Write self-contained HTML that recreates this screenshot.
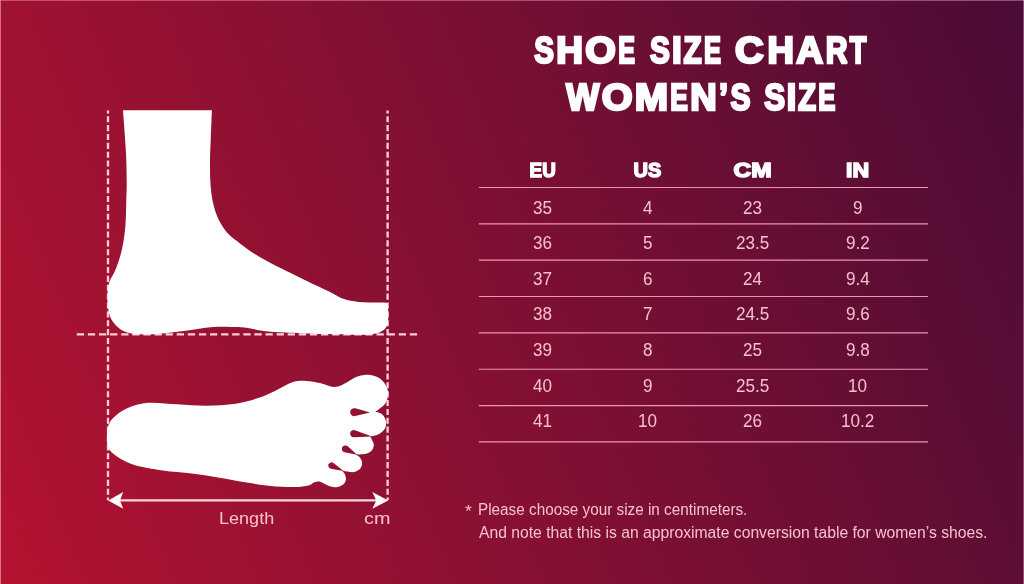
<!DOCTYPE html>
<html><head><meta charset="utf-8"><title>Shoe Size Chart</title>
<style>
html,body{margin:0;padding:0}
body{width:1024px;height:584px;overflow:hidden;position:relative;font-family:"Liberation Sans",sans-serif;
background:linear-gradient(68deg,#b41330 0%,#4a0c36 100%);}
.t{position:absolute;white-space:pre;line-height:1;transform-origin:0 0;font-family:"Liberation Sans",sans-serif}
.hl{position:absolute;left:478.8px;width:449px;height:1.3px;background:#f3b9c6}
svg{position:absolute;left:0;top:0}
.edge{position:absolute;background:rgba(255,190,210,.55)}
#L{position:absolute;left:0;top:0;width:1024px;height:584px;will-change:transform}
</style></head><body><div id="L">
<svg width="1024" height="584" viewBox="0 0 1024 584">
<defs><mask id="m" maskUnits="userSpaceOnUse" x="0" y="0" width="1024" height="584">
<path d="M106.90 435.70 C107.23 433.75 107.35 427.40 108.90 424.00 C110.45 420.60 113.05 417.97 116.20 415.30 C119.35 412.63 122.47 410.08 127.80 408.00 C133.13 405.92 139.95 403.42 148.20 402.80 C156.45 402.18 167.60 403.82 177.30 404.30 C187.00 404.78 196.68 405.80 206.40 405.70 C216.12 405.60 226.85 405.02 235.60 403.70 C244.35 402.38 252.33 399.92 258.90 397.80 C265.47 395.68 269.55 393.55 275.00 391.00 C280.45 388.45 286.43 384.18 291.60 382.50 C296.77 380.82 301.27 380.82 306.00 380.90 C310.73 380.98 316.37 382.22 320.00 383.00 C323.63 383.78 325.42 384.95 327.80 385.60 C330.18 386.25 331.92 387.02 334.30 386.90 C336.68 386.78 339.28 386.10 342.10 384.90 C344.92 383.70 348.38 381.17 351.20 379.70 C354.02 378.23 356.17 376.92 359.00 376.10 C361.83 375.28 365.15 374.63 368.20 374.80 C371.25 374.97 374.70 375.85 377.30 377.10 C379.90 378.35 382.07 380.13 383.80 382.30 C385.53 384.47 387.02 387.72 387.70 390.10 C388.38 392.48 388.33 394.32 387.90 396.60 C387.47 398.88 386.55 401.73 385.10 403.80 C383.65 405.87 380.80 407.67 379.20 409.00 C377.60 410.33 376.12 411.33 375.50 411.80 C376.33 412.05 379.12 412.57 380.50 413.30 C381.88 414.03 382.85 414.63 383.80 416.20 C384.75 417.77 386.08 420.53 386.20 422.70 C386.32 424.87 385.62 427.37 384.50 429.20 C383.38 431.03 381.25 432.62 379.50 433.70 C377.75 434.78 375.53 435.25 374.00 435.70 C372.47 436.15 370.92 436.28 370.30 436.40 C370.55 436.92 371.22 438.12 371.80 439.50 C372.38 440.88 373.80 442.85 373.80 444.70 C373.80 446.55 373.10 449.08 371.80 450.60 C370.50 452.12 368.05 453.17 366.00 453.80 C363.95 454.43 361.25 454.32 359.50 454.40 C357.75 454.48 356.17 454.32 355.50 454.30 C356.27 454.87 359.00 456.27 360.10 457.70 C361.20 459.13 362.10 461.05 362.10 462.90 C362.10 464.75 361.42 467.27 360.10 468.80 C358.78 470.33 356.27 471.63 354.20 472.10 C352.13 472.57 349.73 471.88 347.70 471.60 C345.67 471.32 342.95 470.60 342.00 470.40 C342.52 471.12 344.47 473.12 345.10 474.70 C345.73 476.28 346.12 478.28 345.80 479.90 C345.48 481.52 344.62 483.22 343.20 484.40 C341.78 485.58 339.37 486.63 337.30 487.00 C335.23 487.37 332.97 487.13 330.80 486.60 C328.63 486.07 326.25 484.63 324.30 483.80 C322.35 482.97 320.83 481.82 319.10 481.60 C317.37 481.38 315.68 481.85 313.90 482.50 C312.12 483.15 311.72 484.73 308.40 485.50 C305.08 486.27 300.32 487.02 294.00 487.10 C287.68 487.18 277.82 486.67 270.50 486.00 C263.18 485.33 258.35 484.45 250.10 483.10 C241.85 481.75 230.70 479.50 221.00 477.90 C211.30 476.30 201.60 474.72 191.90 473.50 C182.20 472.28 172.50 472.05 162.80 470.60 C153.10 469.15 141.47 467.23 133.70 464.80 C125.93 462.37 120.48 458.92 116.20 456.00 C111.92 453.08 109.55 450.68 108.00 447.30 C106.45 443.92 107.08 437.63 106.90 435.70 Z" fill="#fff"/>
<path d="M370.00 412.60 L355.11 416.09 A4.00 4.00 0 1 1 355.31 408.36 Z" fill="#000"/><path d="M372.00 436.60 L353.84 437.30 A3.60 3.60 0 1 1 354.94 430.32 Z" fill="#000"/><path d="M357.00 454.80 L344.71 452.33 A3.50 3.50 0 1 1 347.77 446.32 Z" fill="#000"/><path d="M343.50 471.00 L330.91 468.65 A3.20 3.20 0 1 1 333.50 463.00 Z" fill="#000"/>
</mask></defs>
<g stroke="#fbd0d9" fill="none">
<path d="M108 110.5V500.3" stroke-width="2.3" stroke-dasharray="6.1 2.77" stroke-dashoffset="3.2"/>
<path d="M387.6 110.5V500.3" stroke-width="2.3" stroke-dasharray="6.1 2.77" stroke-dashoffset="3.2"/>
<path d="M76.8 334.3H417.2" stroke-width="2.2" stroke-dasharray="7.3 3.8"/>
<path d="M118 500.4H378" stroke-width="2.1" stroke="#fcd6de"/>
</g>
<path d="M123.00 110.30 L211.90 110.30 C211.70 115.25 211.02 131.33 210.70 140.00 C210.38 148.67 210.03 154.88 210.00 162.30 C209.97 169.72 209.93 177.45 210.50 184.50 C211.07 191.55 211.98 198.65 213.40 204.60 C214.82 210.55 216.58 215.38 219.00 220.20 C221.42 225.02 224.40 229.63 227.90 233.50 C231.40 237.37 236.13 240.37 240.00 243.40 C243.87 246.43 247.38 249.20 251.10 251.70 C254.82 254.20 258.58 256.27 262.30 258.40 C266.02 260.53 269.70 262.55 273.40 264.50 C277.10 266.45 280.78 268.25 284.50 270.10 C288.22 271.95 291.98 273.80 295.70 275.60 C299.42 277.40 303.08 279.13 306.80 280.90 C310.52 282.67 314.28 284.42 318.00 286.20 C321.72 287.98 325.43 289.73 329.10 291.60 C332.77 293.47 336.62 295.90 340.00 297.40 C343.38 298.90 346.27 299.83 349.40 300.60 C352.53 301.37 355.65 301.68 358.80 302.00 C361.95 302.32 365.15 302.42 368.30 302.50 C371.45 302.58 375.00 302.48 377.70 302.50 C380.40 302.52 382.85 302.42 384.50 302.60 C386.15 302.78 387.08 303.43 387.60 303.60 C387.68 304.17 388.02 303.93 388.10 307.00 C388.18 310.07 388.33 318.78 388.10 322.00 C387.87 325.22 387.33 325.03 386.70 326.30 C386.07 327.57 385.33 328.67 384.30 329.60 C383.27 330.53 381.92 331.27 380.50 331.90 C379.08 332.53 377.83 332.98 375.80 333.40 C373.77 333.82 371.77 334.18 368.30 334.40 C364.83 334.62 363.22 334.77 355.00 334.70 C346.78 334.63 330.55 334.37 319.00 334.00 C307.45 333.63 294.97 333.02 285.70 332.50 C276.43 331.98 269.72 331.65 263.40 330.90 C257.08 330.15 252.73 328.63 247.80 328.00 C242.87 327.37 239.55 327.25 233.80 327.10 C228.05 326.95 220.15 326.67 213.30 327.10 C206.45 327.53 201.27 328.63 192.70 329.70 C184.13 330.77 170.88 332.73 161.90 333.50 C152.92 334.27 145.22 334.72 138.80 334.30 C132.38 333.88 127.68 333.05 123.40 331.00 C119.12 328.95 115.58 325.43 113.10 322.00 C110.62 318.57 109.43 314.90 108.50 310.40 C107.57 305.90 107.37 299.70 107.50 295.00 C107.63 290.30 107.93 286.48 109.30 282.20 C110.67 277.92 113.57 274.87 115.70 269.30 C117.83 263.73 120.48 256.07 122.10 248.80 C123.72 241.53 124.70 233.83 125.40 225.70 C126.10 217.57 126.08 207.25 126.30 200.00 C126.52 192.75 126.77 190.32 126.70 182.20 C126.63 174.08 126.52 163.28 125.90 151.30 C125.28 139.32 123.48 117.13 123.00 110.30 Z" fill="#fff"/>
<rect x="100" y="370" width="295" height="125" fill="#fff" mask="url(#m)"/>
<path d="M478.8 187.45H928" stroke="#ee93b0" stroke-width="1.15" fill="none"/><path d="M478.8 223.80H928" stroke="#ee93b0" stroke-width="1.15" fill="none"/><path d="M478.8 260.15H928" stroke="#ee93b0" stroke-width="1.15" fill="none"/><path d="M478.8 296.50H928" stroke="#ee93b0" stroke-width="1.15" fill="none"/><path d="M478.8 332.85H928" stroke="#ee93b0" stroke-width="1.15" fill="none"/><path d="M478.8 369.20H928" stroke="#ee93b0" stroke-width="1.15" fill="none"/><path d="M478.8 405.55H928" stroke="#ee93b0" stroke-width="1.15" fill="none"/><path d="M478.8 441.90H928" stroke="#ee93b0" stroke-width="1.15" fill="none"/>
<path d="M108.2 500.4L123.2 492.1L120 500.4L123.2 508.8Z" fill="#fff"/>
<path d="M388.2 500.4L372.3 492.1L376.3 500.4L372.3 508.8Z" fill="#fff"/>
</svg>
<svg width="1024" height="584" viewBox="0 0 1024 584"><g font-family="Liberation Sans" font-weight="700" font-size="37.0" fill="#fff" stroke="#fff" stroke-width="2.5" stroke-linejoin="miter" stroke-miterlimit="2"><text transform="translate(534.29,63) scale(0.7994,1)">S</text><text transform="translate(556.14,63) scale(1.0015,1)">H</text><text transform="translate(585.15,63) scale(1.0614,1)">O</text><text transform="translate(618.23,63) scale(0.6774,1)">E</text><text transform="translate(649.91,63) scale(0.8022,1)">S</text><text transform="translate(672.0,63) scale(0.9446,1)">I</text><text transform="translate(683.38,63) scale(0.8027,1)">Z</text><text transform="translate(703.93,63) scale(0.6864,1)">E</text><text transform="translate(734.93,63) scale(1.0716,1)">C</text><text transform="translate(767.54,63) scale(0.9891,1)">H</text><text transform="translate(796.24,63) scale(1.0024,1)">A</text><text transform="translate(825.75,63) scale(0.8187,1)">R</text><text transform="translate(849.66,63) scale(0.7374,1)">T</text><text transform="translate(566.15,110) scale(0.9453,1)">W</text><text transform="translate(601.83,110) scale(1.0724,1)">O</text><text transform="translate(634.81,110) scale(1.0818,1)">M</text><text transform="translate(670.18,110) scale(0.7126,1)">E</text><text transform="translate(690.14,110) scale(0.9891,1)">N</text><text transform="translate(719.09,110) scale(0.8808,1)">’</text><text transform="translate(730.61,110) scale(0.8109,1)">S</text><text transform="translate(764.21,110) scale(0.8428,1)">S</text><text transform="translate(786.71,110) scale(0.9208,1)">I</text><text transform="translate(797.98,110) scale(0.7964,1)">Z</text><text transform="translate(818.32,110) scale(0.6945,1)">E</text></g><g font-family="Liberation Sans" font-weight="700" font-size="20.0" fill="#fff" stroke="#fff" stroke-width="1.5" stroke-linejoin="miter" stroke-miterlimit="2"><text transform="translate(529.62,177) scale(0.9386,1)">EU</text><text transform="translate(633.61,177) scale(0.9959,1)">US</text><text transform="translate(733.44,177) scale(1.226,1)">CM</text><text transform="translate(846.05,177) scale(1.1548,1)">IN</text></g></svg>
<span class="t" style="left:533.11px;top:199px;font-size:18.0px;font-weight:400;color:#f8c0cd;transform:scaleX(0.95)">35</span>
<span class="t" style="left:643.13px;top:199px;font-size:18.0px;font-weight:400;color:#f8c0cd;transform:scaleX(0.95)">4</span>
<span class="t" style="left:743.01px;top:199px;font-size:18.0px;font-weight:400;color:#f8c0cd;transform:scaleX(0.95)">23</span>
<span class="t" style="left:852.79px;top:199px;font-size:18.0px;font-weight:400;color:#f8c0cd;transform:scaleX(0.95)">9</span>
<span class="t" style="left:533.13px;top:234px;font-size:18.0px;font-weight:400;color:#f8c0cd;transform:scaleX(0.95)">36</span>
<span class="t" style="left:643.02px;top:234px;font-size:18.0px;font-weight:400;color:#f8c0cd;transform:scaleX(0.95)">5</span>
<span class="t" style="left:735.85px;top:234px;font-size:18.0px;font-weight:400;color:#f8c0cd;transform:scaleX(0.95)">23.5</span>
<span class="t" style="left:845.67px;top:234px;font-size:18.0px;font-weight:400;color:#f8c0cd;transform:scaleX(0.95)">9.2</span>
<span class="t" style="left:533.14px;top:270px;font-size:18.0px;font-weight:400;color:#f8c0cd;transform:scaleX(0.95)">37</span>
<span class="t" style="left:643.04px;top:270px;font-size:18.0px;font-weight:400;color:#f8c0cd;transform:scaleX(0.95)">6</span>
<span class="t" style="left:742.85px;top:270px;font-size:18.0px;font-weight:400;color:#f8c0cd;transform:scaleX(0.95)">24</span>
<span class="t" style="left:845.5px;top:270px;font-size:18.0px;font-weight:400;color:#f8c0cd;transform:scaleX(0.95)">9.4</span>
<span class="t" style="left:533.12px;top:305px;font-size:18.0px;font-weight:400;color:#f8c0cd;transform:scaleX(0.95)">38</span>
<span class="t" style="left:643.08px;top:305px;font-size:18.0px;font-weight:400;color:#f8c0cd;transform:scaleX(0.95)">7</span>
<span class="t" style="left:735.85px;top:305px;font-size:18.0px;font-weight:400;color:#f8c0cd;transform:scaleX(0.95)">24.5</span>
<span class="t" style="left:845.64px;top:305px;font-size:18.0px;font-weight:400;color:#f8c0cd;transform:scaleX(0.95)">9.6</span>
<span class="t" style="left:533.14px;top:341px;font-size:18.0px;font-weight:400;color:#f8c0cd;transform:scaleX(0.95)">39</span>
<span class="t" style="left:643.08px;top:341px;font-size:18.0px;font-weight:400;color:#f8c0cd;transform:scaleX(0.95)">8</span>
<span class="t" style="left:742.99px;top:341px;font-size:18.0px;font-weight:400;color:#f8c0cd;transform:scaleX(0.95)">25</span>
<span class="t" style="left:845.64px;top:341px;font-size:18.0px;font-weight:400;color:#f8c0cd;transform:scaleX(0.95)">9.8</span>
<span class="t" style="left:533.29px;top:377px;font-size:18.0px;font-weight:400;color:#f8c0cd;transform:scaleX(0.95)">40</span>
<span class="t" style="left:643.09px;top:377px;font-size:18.0px;font-weight:400;color:#f8c0cd;transform:scaleX(0.95)">9</span>
<span class="t" style="left:735.85px;top:377px;font-size:18.0px;font-weight:400;color:#f8c0cd;transform:scaleX(0.95)">25.5</span>
<span class="t" style="left:847.74px;top:377px;font-size:18.0px;font-weight:400;color:#f8c0cd;transform:scaleX(0.95)">10</span>
<span class="t" style="left:533.34px;top:412px;font-size:18.0px;font-weight:400;color:#f8c0cd;transform:scaleX(0.95)">41</span>
<span class="t" style="left:638.04px;top:412px;font-size:18.0px;font-weight:400;color:#f8c0cd;transform:scaleX(0.95)">10</span>
<span class="t" style="left:743.01px;top:412px;font-size:18.0px;font-weight:400;color:#f8c0cd;transform:scaleX(0.95)">26</span>
<span class="t" style="left:840.67px;top:412px;font-size:18.0px;font-weight:400;color:#f8c0cd;transform:scaleX(0.95)">10.2</span>
<span class="t" style="left:218.96px;top:510px;font-size:17.0px;font-weight:400;color:#f8c0cd;transform:scaleX(1.0611)">Length</span>
<span class="t" style="left:364.48px;top:510px;font-size:17.0px;font-weight:400;color:#f8c0cd;transform:scaleX(1.1653)">cm</span>
<span class="t" style="left:464.54px;top:504px;font-size:16.0px;font-weight:400;color:#f8c0cd;transform:scaleX(1.0883)">*</span>
<span class="t" style="left:478.08px;top:502px;font-size:16.0px;font-weight:400;color:#f8c0cd;transform:scaleX(0.9555)">Please choose your size in centimeters.</span>
<span class="t" style="left:478.77px;top:525px;font-size:16.0px;font-weight:400;color:#f8c0cd;transform:scaleX(0.9811)">And note that this is an approximate conversion table for women’s shoes.</span>
<div class="edge" style="left:0;top:0;width:1024px;height:1px;background:rgba(255,170,195,.42)"></div>
<div class="edge" style="left:0;top:0;width:1px;height:584px;background:rgba(255,160,185,.62)"></div>
<div class="edge" style="left:1023px;top:0;width:1px;height:584px;background:rgba(255,190,230,.38)"></div>
</div></body></html>
